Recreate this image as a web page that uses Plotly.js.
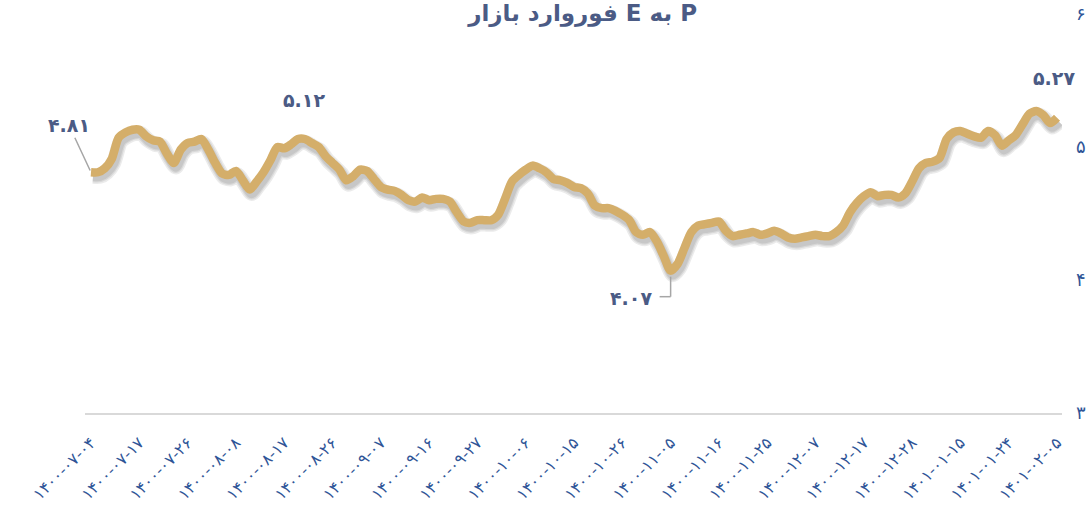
<!DOCTYPE html>
<html>
<head>
<meta charset="utf-8">
<script src="https://cdn.plot.ly/plotly-3.0.1.min.js"></script>
<style>
html,body{margin:0;padding:0;background:#fff;}
#chart{width:1089px;height:515px;}
</style>
</head>
<body>
<div id="chart"></div>
<script>
// Forward P/E of the market, one value per trading day
const peValues = [
  4.81, 4.81, 4.84, 4.91, 5.07, 5.11, 5.13, 5.13, 5.08, 5.05,
  5.04, 4.95, 4.88, 4.98, 5.03, 5.04, 5.06, 4.98, 4.88, 4.80,
  4.79, 4.82, 4.75, 4.68, 4.74, 4.81, 4.90, 5.00, 4.99, 5.02,
  5.06, 5.06, 5.03, 5.00, 4.93, 4.88, 4.83, 4.75, 4.78, 4.83,
  4.82, 4.76, 4.70, 4.68, 4.67, 4.64, 4.60, 4.59, 4.62, 4.60,
  4.61, 4.61, 4.59, 4.51, 4.44, 4.43, 4.45, 4.45, 4.45, 4.49,
  4.61, 4.74, 4.79, 4.83, 4.86, 4.84, 4.81, 4.76, 4.75, 4.73,
  4.70, 4.69, 4.65, 4.56, 4.54, 4.54, 4.52, 4.49, 4.45, 4.36,
  4.34, 4.36, 4.29, 4.18, 4.07, 4.12, 4.24, 4.36, 4.41, 4.42,
  4.43, 4.44, 4.37, 4.33, 4.34, 4.35, 4.36, 4.34, 4.35, 4.37,
  4.35, 4.32, 4.31, 4.32, 4.33, 4.34, 4.33, 4.33, 4.36, 4.41,
  4.51, 4.58, 4.63, 4.66, 4.63, 4.64, 4.64, 4.62, 4.65, 4.74,
  4.84, 4.88, 4.89, 4.92, 5.06, 5.11, 5.12, 5.10, 5.08, 5.07,
  5.12, 5.09, 5.01, 5.05, 5.09, 5.17, 5.25, 5.27, 5.24, 5.18,
  5.22
];
const dayIndex = peValues.map((v, i) => i);

// Date tick labels (every 7th trading day)
const tickLabels = [
  '۱۴۰۰-۰۷-۰۴', '۱۴۰۰-۰۷-۱۷', '۱۴۰۰-۰۷-۲۶', '۱۴۰۰-۰۸-۰۸', '۱۴۰۰-۰۸-۱۷',
  '۱۴۰۰-۰۸-۲۶', '۱۴۰۰-۰۹-۰۷', '۱۴۰۰-۰۹-۱۶', '۱۴۰۰-۰۹-۲۷', '۱۴۰۰-۱۰-۰۶',
  '۱۴۰۰-۱۰-۱۵', '۱۴۰۰-۱۰-۲۶', '۱۴۰۰-۱۱-۰۵', '۱۴۰۰-۱۱-۱۶', '۱۴۰۰-۱۱-۲۵',
  '۱۴۰۰-۱۲-۰۷', '۱۴۰۰-۱۲-۱۷', '۱۴۰۰-۱۲-۲۸', '۱۴۰۱-۰۱-۱۵', '۱۴۰۱-۰۱-۲۴',
  '۱۴۰۱-۰۲-۰۵'
];
const tickStep = 7;
const tickPositions = tickLabels.map((t, i) => i * tickStep);

const yTickVals = [3, 4, 5, 6];
const yTickText = ['۳', '۴', '۵', '۶'];

// Highlighted values
const firstLabel = '۴.۸۱';
const peakLabel = '۵.۱۲';
const minLabel = '۴.۰۷';
const lastPeakLabel = '۵.۲۷';

const minIdx = peValues.indexOf(Math.min(...peValues));

const FONT = 'DejaVu Sans, Noto Sans, sans-serif';
const labelColor = '#4B5B85';
const tickColor = '#2F5597';

// plot geometry helpers (pixels per unit) for the shadow offset axes
const xRange = [-0.87, 140.72];
const yRange = [3, 6];
const plotW = 1089 - 85 - 27;
const plotH = 515 - 14 - 102;
const pxPerX = plotW / (xRange[1] - xRange[0]);
const pxPerY = plotH / (yRange[1] - yRange[0]);
const shadowDx = 2, shadowDy = 4;

const shadowWidths = [15, 12, 9.5];
const shadowTraces = shadowWidths.map(w => ({
  x: dayIndex,
  y: peValues,
  xaxis: 'x2',
  yaxis: 'y2',
  type: 'scatter',
  mode: 'lines',
  line: {color: 'rgba(0,0,0,0.08)', width: w, shape: 'spline', smoothing: 0.7},
  hoverinfo: 'skip',
  cliponaxis: false
}));

const mainTrace = {
  x: dayIndex,
  y: peValues,
  xaxis: 'x3',
  yaxis: 'y3',
  type: 'scatter',
  mode: 'lines',
  line: {color: '#D4AE6A', width: 8.5, shape: 'spline', smoothing: 0.7},
  hoverinfo: 'skip',
  cliponaxis: false
};

const annFont = {family: FONT, size: 19, color: labelColor, weight: 'bold'};

const layout = {
  width: 1089,
  height: 515,
  margin: {l: 85, r: 27, t: 14, b: 102},
  paper_bgcolor: '#ffffff',
  plot_bgcolor: '#ffffff',
  showlegend: false,
  font: {family: FONT},
  title: {
    text: '\u202BP به E فوروارد بازار\u202C',
    font: {family: FONT, size: 23, color: labelColor, weight: 'bold'},
    x: 0.535, xanchor: 'center',
    y: 1 - 13 / 515, yanchor: 'middle', yref: 'container'
  },
  xaxis: {
    range: xRange,
    tickmode: 'array',
    tickvals: tickPositions,
    ticktext: tickLabels,
    tickangle: -45,
    tickfont: {family: FONT, size: 16, color: tickColor},
    ticks: '',
    ticklabelstandoff: 12,
    showgrid: false,
    zeroline: false,
    showline: true,
    linecolor: '#D9D9D9',
    linewidth: 2
  },
  yaxis: {
    range: yRange,
    side: 'right',
    tickmode: 'array',
    tickvals: yTickVals,
    ticktext: yTickText,
    tickfont: {family: FONT, size: 18, color: tickColor},
    ticks: '',
    ticklabelstandoff: 13,
    showgrid: false,
    zeroline: false,
    showline: false
  },
  // hidden axes, offset by a few pixels, used only to draw the line's shadow
  xaxis2: {
    overlaying: 'x', visible: false,
    range: [xRange[0] - shadowDx / pxPerX, xRange[1] - shadowDx / pxPerX]
  },
  yaxis2: {
    overlaying: 'y', visible: false,
    range: [yRange[0] + shadowDy / pxPerY, yRange[1] + shadowDy / pxPerY]
  },
  // hidden axes identical to the visible ones, so the line is drawn above its shadow
  xaxis3: {overlaying: 'x', visible: false, range: xRange},
  yaxis3: {overlaying: 'y', visible: false, range: yRange},
  annotations: [
    {
      x: 0, y: peValues[0], xref: 'x', yref: 'y',
      text: firstLabel, showarrow: true, arrowhead: 0, arrowwidth: 1.5,
      arrowcolor: '#A6A6A6', ax: -22, ay: -47, standoff: 2,
      font: annFont
    },
    {x: 30.9, y: 5.353, xref: 'x', yref: 'y', text: peakLabel, showarrow: false, font: annFont},
    {x: 78.3, y: 3.865, xref: 'x', yref: 'y', text: minLabel, showarrow: false, font: annFont},
    {x: 139.6, y: 5.519, xref: 'x', yref: 'y', text: lastPeakLabel, showarrow: false, font: annFont}
  ],
  shapes: [
    {
      type: 'line', xref: 'x', yref: 'y',
      xsizemode: 'pixel', ysizemode: 'pixel',
      xanchor: minIdx, yanchor: peValues[minIdx],
      x0: 0, x1: 0, y0: -6, y1: -26,
      line: {color: '#A6A6A6', width: 1.5}
    },
    {
      type: 'line', xref: 'x', yref: 'y',
      xsizemode: 'pixel', ysizemode: 'pixel',
      xanchor: minIdx, yanchor: peValues[minIdx],
      x0: 0, x1: -11, y0: -26, y1: -26,
      line: {color: '#A6A6A6', width: 1.5}
    }
  ]
};

Plotly.newPlot('chart', shadowTraces.concat([mainTrace]), layout, {staticPlot: true, displayModeBar: false});
</script>
</body>
</html>
